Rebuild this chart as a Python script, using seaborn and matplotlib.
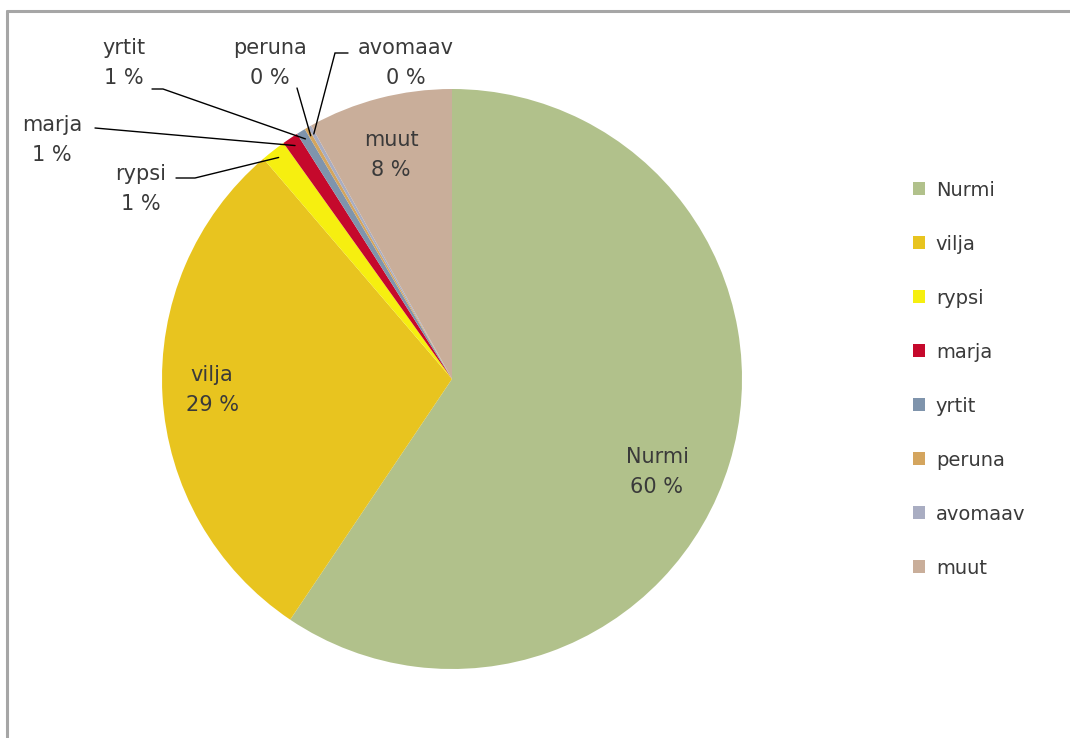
import numpy as np
import matplotlib
matplotlib.use('Agg')
import matplotlib.pyplot as plt
from matplotlib.patches import Patch
from matplotlib.lines import Line2D
import seaborn as sns

# slice data (share of area, %), drawn clockwise from 12 o'clock
categories = ['Nurmi', 'vilja', 'rypsi', 'marja', 'yrtit', 'peruna', 'avomaav', 'muut']
shares = [59.6, 29.4, 1.4, 0.9, 0.5, 0.2, 0.2, 8.1]
pct_labels = ['60 %', '29 %', '1 %', '1 %', '1 %', '0 %', '0 %', '8 %']
colors = ['#B1C18B', '#E8C41F', '#F6EF10', '#C5092C', '#7F94AC',
          '#D4A55E', '#A9ADC2', '#C9AE9A']

W, H = 1070, 738
CX, CY, R = 452, 379, 290


def px(x, y):
    """pixel position -> pie data coords (radius 1)"""
    return (x - CX) / R, (CY - y) / R


sns.set_style('white')
plt.rcParams['font.family'] = ['DejaVu Sans']
palette = sns.color_palette(colors)

fig = plt.figure(figsize=(W / 100, H / 100), dpi=100)
ax = fig.add_axes([(CX - R) / W, (H - CY - R) / H, 2 * R / W, 2 * R / H])

wedges, _ = ax.pie(shares, colors=palette, startangle=90, counterclock=False,
                   radius=1, wedgeprops=dict(linewidth=0))
ax.set_xlim(-1, 1)
ax.set_ylim(-1, 1)
ax.set_aspect('equal')
ax.axis('off')

FS = 15
txt = dict(fontsize=FS, color='#3a3a3a', ha='center', va='center', linespacing=1.6)

# labels inside the big slices
inside = {'Nurmi': (657, 472), 'vilja': (212, 390), 'muut': (391, 155)}
# labels outside with a leader line: text centre, line start, elbow
outside = {
    'rypsi':   ((141, 189), (176, 178), (195, 178)),
    'marja':   ((52, 140), (95, 128), (95, 128)),
    'yrtit':   ((124, 63), (152, 89), (163, 89)),
    'peruna':  ((270, 63), (297, 88), (297, 88)),
    'avomaav': ((406, 63), (348, 53), (335, 53)),
}

for w, name, pct in zip(wedges, categories, pct_labels):
    if name in inside:
        x, y = px(*inside[name])
        ax.text(x, y, f'{name}\n{pct}', **txt)
    else:
        (tx, ty), (sx, sy), (ex, ey) = outside[name]
        x, y = px(tx, ty)
        ax.text(x, y, f'{name}\n{pct}', clip_on=False, **txt)
        mid = np.deg2rad((w.theta1 + w.theta2) / 2)
        r_end = 0.97
        p0 = px(sx, sy)
        p1 = px(ex, ey)
        ax.plot([p0[0], p1[0], r_end * np.cos(mid)], [p0[1], p1[1], r_end * np.sin(mid)],
                color='black', lw=1.0, clip_on=False, solid_joinstyle='miter')

handles = [Patch(facecolor=c, edgecolor='none') for c in palette]
fig.legend(handles, categories, loc='center left',
           bbox_to_anchor=(895 / W, (H - CY) / H), frameon=False,
           fontsize=14, handlelength=0.65, handleheight=0.65, handletextpad=0.55,
           labelspacing=1.8, labelcolor='#3a3a3a')

# chart area border (top and left)
fig.add_artist(Line2D([7 / W, 7 / W], [0, 1 - 11 / H], transform=fig.transFigure,
                      color='#a6a6a6', lw=2.2))
fig.add_artist(Line2D([7 / W, 1], [1 - 11 / H, 1 - 11 / H], transform=fig.transFigure,
                      color='#a6a6a6', lw=2.2))

fig.savefig('out.png', dpi=100, facecolor='white')
